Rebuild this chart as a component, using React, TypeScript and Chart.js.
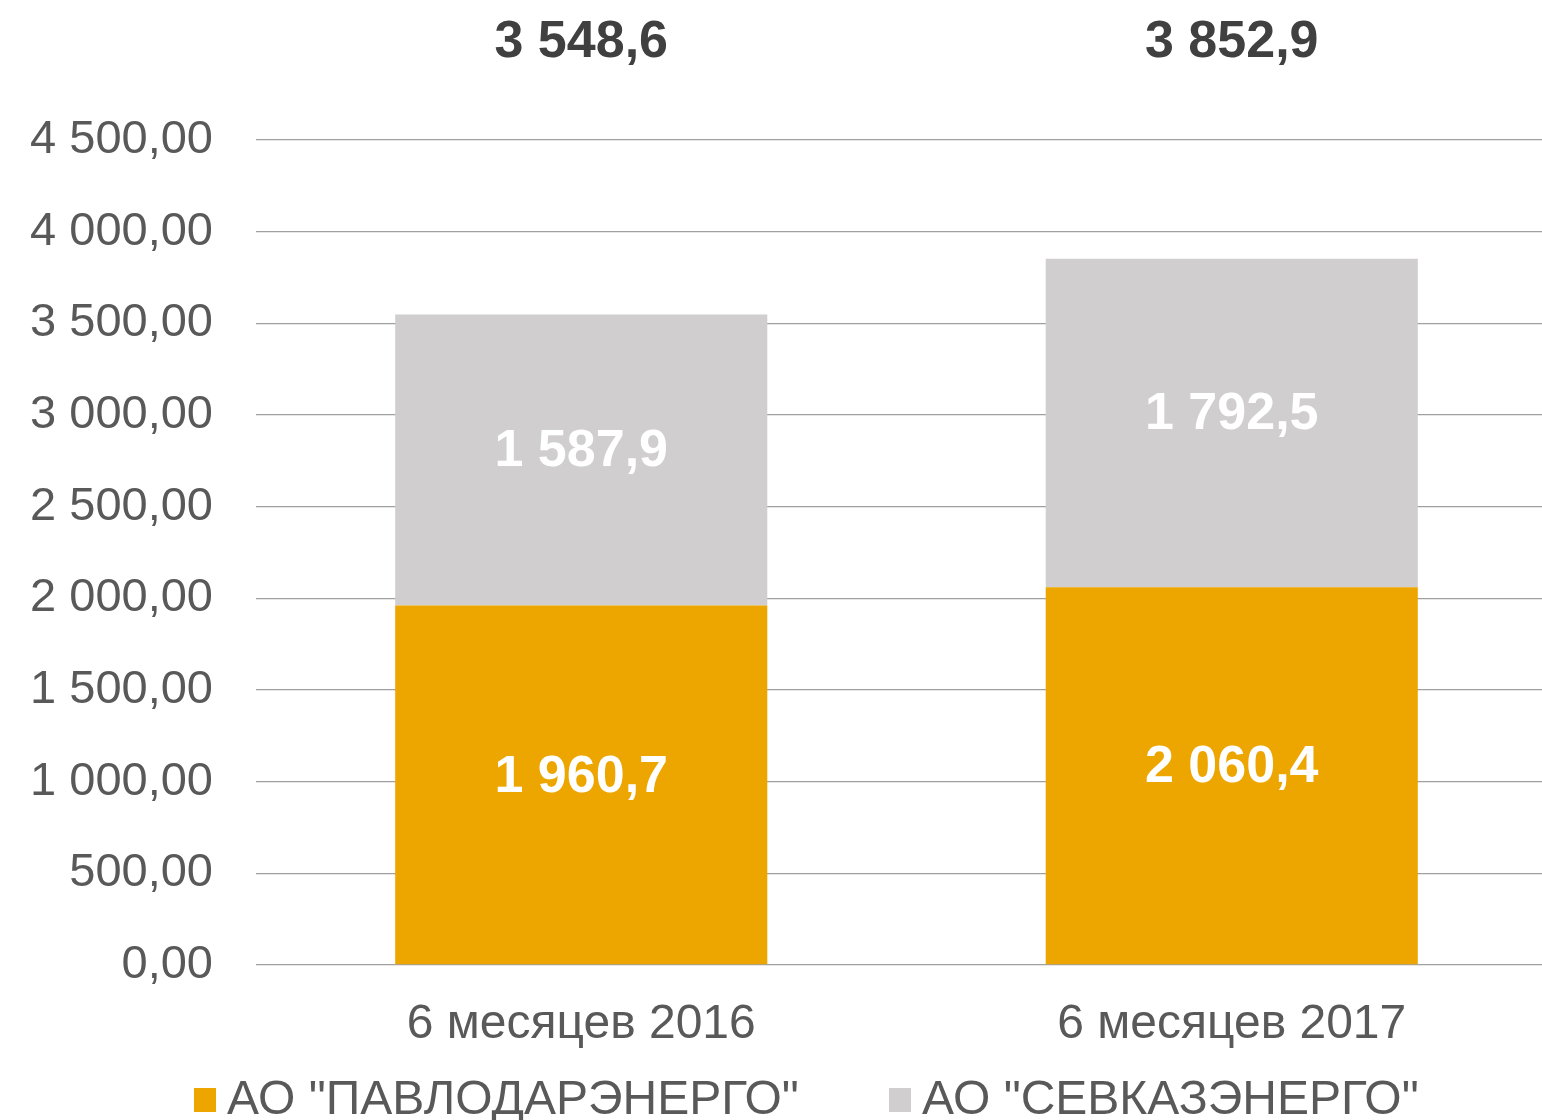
import React, { useEffect, useRef } from "react";
import { Chart, registerables } from "chart.js";

Chart.register(...registerables);

const categories = ["6 месяцев 2016", "6 месяцев 2017"];
const seriesNames = ['АО "ПАВЛОДАРЭНЕРГО"', 'АО "СЕВКАЗЭНЕРГО"'];
const pavlodarValues = [1960.7, 2060.4];
const sevkazValues = [1587.9, 1792.5];
const totals = [3548.6, 3852.9];
const yTickStep = 500;
const yMax = 4500;

const colors = ["#EDA500", "#D0CECE"];
const FONT = "'Liberation Sans', Arial, sans-serif";

const fmt = (v: number, digits: number) => {
  const s = v.toFixed(digits);
  const [i, d] = s.split(".");
  const ip = i.replace(/\B(?=(\d{3})+(?!\d))/g, " ");
  return d !== undefined ? ip + "," + d : ip;
};

const labelsPlugin = {
  id: "customLabels",
  afterDatasetsDraw(chart: any) {
    const ctx = chart.ctx;
    const y = chart.scales.y;
    ctx.save();
    ctx.textAlign = "center";
    ctx.textBaseline = "middle";
    ctx.font = `bold 52px ${FONT}`;
    chart.data.datasets.forEach((ds: any, di: number) => {
      const meta = chart.getDatasetMeta(di);
      meta.data.forEach((bar: any, i: number) => {
        let base = 0;
        for (let k = 0; k < di; k++) base += chart.data.datasets[k].data[i];
        const mid = base + ds.data[i] / 2;
        ctx.fillStyle = "#FFFFFF";
        ctx.fillText(fmt(ds.data[i], 1), bar.x, y.getPixelForValue(mid) - 8);
      });
    });
    // totals
    const meta0 = chart.getDatasetMeta(0);
    ctx.fillStyle = "#404040";
    totals.forEach((t, i) => {
      ctx.fillText(fmt(t, 1), meta0.data[i].x, 43);
    });
    // legend
    ctx.font = `48px ${FONT}`;
    ctx.textAlign = "left";
    const legendX = [194, 889];
    chart.data.datasets.forEach((ds: any, di: number) => {
      const lx = legendX[di];
      ctx.fillStyle = ds.backgroundColor;
      ctx.fillRect(lx, 1088, 22, 24);
      ctx.fillStyle = "#595959";
      ctx.fillText(ds.label, lx + 33, 1101);
    });
    ctx.restore();
  },
};

export default function App() {
  const ref = useRef<HTMLCanvasElement>(null);
  useEffect(() => {
    document.body.style.margin = "0";
    const chart = new Chart(ref.current!, {
      type: "bar",
      data: {
        labels: categories,
        datasets: [
          { label: seriesNames[0], data: pavlodarValues, backgroundColor: colors[0] },
          { label: seriesNames[1], data: sevkazValues, backgroundColor: colors[1] },
        ],
      },
      options: {
        responsive: false,
        animation: false,
        layout: { padding: { top: 140, left: 0, right: 0, bottom: 0 } },
        plugins: { legend: { display: false }, tooltip: { enabled: false } },
        datasets: { bar: { categoryPercentage: 1, barPercentage: 0.572 } },
        scales: {
          x: {
            stacked: true,
            grid: { display: false, drawTicks: false },
            border: { display: false },
            ticks: { font: { family: FONT, size: 48 }, color: "#595959", padding: 31 },
            afterFit: (s: any) => { s.height = 155; },
          },
          y: {
            stacked: true,
            min: 0,
            max: yMax,
            grid: { color: "#A0A0A0", lineWidth: 1.3, drawTicks: false },
            border: { display: false },
            ticks: {
              stepSize: yTickStep,
              font: { family: FONT, size: 47 },
              color: "#595959",
              padding: 43,
              callback: (v: any) => fmt(Number(v), 2),
            },
            afterFit: (s: any) => { s.width = 256; },
          },
        },
      },
      plugins: [labelsPlugin],
    });
    return () => chart.destroy();
  }, []);
  return (
    <div style={{ position: "absolute", left: 0, top: 0, width: 1542, height: 1120, overflow: "hidden" }}>
      <canvas ref={ref} width={1557} height={1120} />
    </div>
  );
}
